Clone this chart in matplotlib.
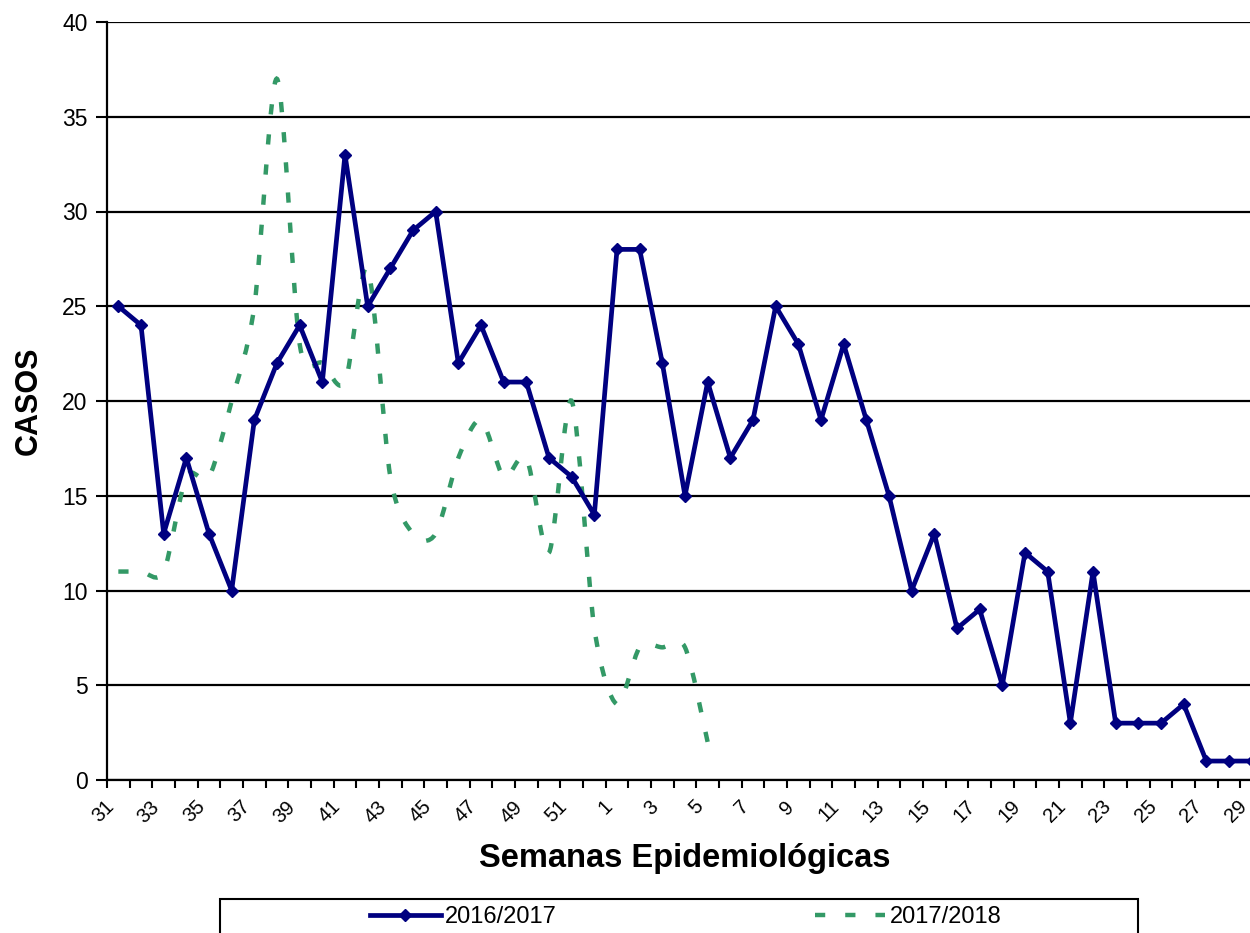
import matplotlib
matplotlib.use("Agg")
import matplotlib.pyplot as plt
from matplotlib.path import Path
from matplotlib.patches import PathPatch, Rectangle
from matplotlib.lines import Line2D
from matplotlib.transforms import ScaledTranslation
import numpy as np

plt.rcParams['font.family'] = ['Liberation Sans', 'DejaVu Sans']

# semanas epidemiologicas (31..52 y 1..29)
semanas = [31, 32, 33, 34, 35, 36, 37, 38, 39, 40, 41, 42, 43, 44, 45, 46, 47, 48, 49, 50, 51, 52,
           1, 2, 3, 4, 5, 6, 7, 8, 9, 10, 11, 12, 13, 14, 15, 16, 17, 18, 19, 20,
           21, 22, 23, 24, 25, 26, 27, 28, 29]

casos_2016 = [25, 24, 13, 17, 13, 10, 19, 22, 24, 21, 33, 25, 27, 29, 30, 22, 24, 21, 21, 17, 16, 14,
              28, 28, 22, 15, 21, 17, 19, 25, 23, 19, 23, 19, 15, 10, 13, 8, 9, 5, 12, 11,
              3, 11, 3, 3, 3, 4, 1, 1, 1]

casos_2017 = [11, 11, 11, 16, 16, 20, 25, 37, 23, 22, 21, 27, 16, 13, 13, 17, 19, 16, 17, 12, 20, 8,
              4, 7, 7, 7, 2]

azul = '#000080'
verde = '#339966'

fig = plt.figure(figsize=(12.5, 9.33), dpi=100)
ax = fig.add_axes([107/1250, 1-780/933, (1263-107)/1250, (780-22)/933])

x1 = np.arange(len(casos_2016))
ax.plot(x1, casos_2016, color=azul, lw=3.4, marker='D', ms=6.5, zorder=3)

# linea suavizada (como en excel) con curvas bezier
pts = np.column_stack([np.arange(len(casos_2017)), casos_2017]).astype(float)
n = len(pts)
verts = [pts[0]]
codes = [Path.MOVETO]
for i in range(n-1):
    p0 = pts[max(i-1, 0)]
    p1 = pts[i]
    p2 = pts[i+1]
    p3 = pts[min(i+2, n-1)]
    verts += [p1 + (p2-p0)/7, p2 - (p3-p1)/7, p2]
    codes += [Path.CURVE4]*3
patch = PathPatch(Path(verts, codes), fill=False, edgecolor=verde, lw=3.2,
                  linestyle=(0, (2.3, 4.5)), capstyle='butt', zorder=2)
ax.add_patch(patch)

ax.set_xlim(-0.5, len(semanas)-0.5)
ax.set_ylim(0, 40)
ax.set_yticks(range(0, 41, 5))
ax.yaxis.grid(True, color='black', lw=1.6)
ax.set_axisbelow(True)

# marcas entre categorias; etiquetas giradas (cada dos semanas) como texto
ax.set_xticks(np.arange(-0.5, len(semanas), 1))
ax.set_xticklabels([])
ax.tick_params(axis='x', length=6, width=1.5, direction='out')
ax.tick_params(axis='y', length=8, width=1.5, labelsize=16.5, pad=6)

trans = ax.get_xaxis_transform() + ScaledTranslation(-14/100, -17/100, fig.dpi_scale_trans)
for i in x1[::2]:
    ax.text(i, 0, str(semanas[i]), transform=trans, rotation=45, ha='right', va='top',
            rotation_mode='anchor', fontsize=14.5, clip_on=False)

for s in ['top', 'right']:
    ax.spines[s].set_visible(False)
for s in ['left', 'bottom']:
    ax.spines[s].set_linewidth(1.6)

ax.set_ylabel('CASOS', fontsize=22, fontweight='bold', labelpad=13)
ax.set_xlabel('Semanas Epidemiológicas', fontsize=23.5, fontweight='bold', labelpad=36)

# cuadro de la leyenda
fig.patches.append(Rectangle((220/1250, -0.05), (1138-220)/1250, 0.05 + 1-899/933,
                             transform=fig.transFigure, fill=False, edgecolor='black', lw=1.5))
handles = [Line2D([], [], color=azul, lw=3.4, marker='D', ms=6.5, markevery=[1]),
           Line2D([], [], color=verde, lw=3.2, linestyle=(0, (2.3, 4.5)), dash_capstyle='butt')]
fig.legend(handles, ['2016/2017', '2017/2018'], ncol=2, frameon=False, fontsize=17,
           loc='center left', bbox_to_anchor=(358/1250, 1-917/933),
           handlelength=3.0, handletextpad=0.2, columnspacing=10.9, borderpad=0)

fig.savefig('out.png', dpi=100)
